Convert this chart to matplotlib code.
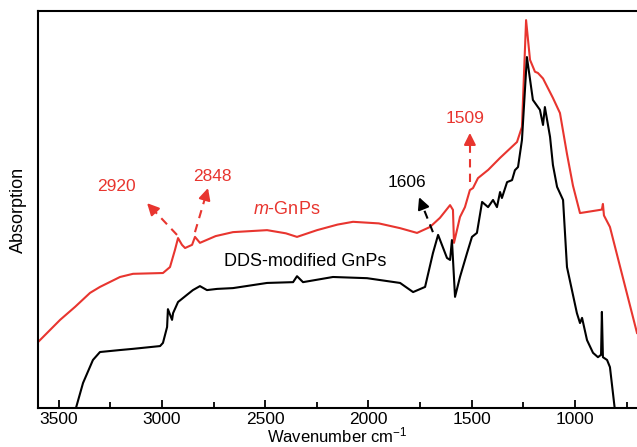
import numpy as np
import matplotlib.pyplot as plt
from matplotlib.ticker import MultipleLocator

plt.rcParams['font.family'] = ['Liberation Sans', 'DejaVu Sans']
plt.rcParams['mathtext.fontset'] = 'custom'
plt.rcParams['mathtext.rm'] = 'Liberation Sans'
plt.rcParams['mathtext.it'] = 'Liberation Sans:italic'

RED = '#e8352f'

# m-GnPs spectrum
wn_m = [3600, 3493, 3420, 3348, 3300, 3203, 3140, 2995, 2961, 2937, 2922, 2903,
        2888, 2854, 2840, 2816, 2740, 2656, 2491, 2400, 2346, 2249, 2150, 2075,
        1950, 1847, 1765, 1702, 1654, 1605, 1591, 1586, 1557, 1533, 1509, 1494,
        1470, 1420, 1363, 1281, 1257, 1237, 1218, 1194, 1180, 1155, 1107, 1073,
        1039, 1010, 976, 879, 870, 865, 860, 831, 700]
abs_m = [0.166, 0.222, 0.255, 0.290, 0.305, 0.330, 0.338, 0.340, 0.355, 0.398,
         0.428, 0.411, 0.403, 0.411, 0.431, 0.416, 0.433, 0.443, 0.448, 0.440,
         0.431, 0.448, 0.462, 0.469, 0.465, 0.453, 0.441, 0.456, 0.479, 0.511,
         0.499, 0.416, 0.481, 0.506, 0.549, 0.554, 0.579, 0.600, 0.630, 0.670,
         0.708, 0.977, 0.877, 0.847, 0.844, 0.830, 0.781, 0.743, 0.640, 0.560,
         0.491, 0.499, 0.500, 0.514, 0.485, 0.456, 0.189]

# DDS-modified GnPs spectrum
wn_d = [3426, 3382, 3334, 3300, 3203, 3140, 3009, 2995, 2975, 2971, 2951, 2946,
        2922, 2879, 2850, 2816, 2782, 2733, 2656, 2491, 2365, 2346, 2317, 2172,
        2007, 1847, 1784, 1726, 1688, 1663, 1620, 1605, 1596, 1581, 1557, 1523,
        1499, 1475, 1450, 1421, 1397, 1378, 1363, 1354, 1329, 1305, 1291, 1276,
        1257, 1233, 1204, 1170, 1155, 1146, 1121, 1107, 1087, 1058, 1039, 991,
        976, 966, 942, 913, 889, 874, 870, 865, 845, 831, 807]
abs_d = [-0.018, 0.063, 0.121, 0.141, 0.146, 0.149, 0.156, 0.164, 0.204, 0.249,
         0.222, 0.239, 0.267, 0.285, 0.297, 0.307, 0.297, 0.300, 0.302, 0.315,
         0.317, 0.332, 0.317, 0.330, 0.327, 0.315, 0.292, 0.305, 0.390, 0.436,
         0.378, 0.373, 0.423, 0.280, 0.330, 0.390, 0.431, 0.441, 0.519, 0.506,
         0.524, 0.506, 0.544, 0.529, 0.569, 0.574, 0.599, 0.607, 0.675, 0.884,
         0.776, 0.751, 0.713, 0.758, 0.683, 0.612, 0.557, 0.524, 0.355, 0.239,
         0.214, 0.227, 0.171, 0.139, 0.128, 0.134, 0.242, 0.128, 0.121, 0.103,
         -0.005]

# peak labels: (text, colour, text pos, arrow tail, arrow head)
peaks = [
    ('2920', RED, (3218, 0.557), (2927, 0.436), (3072, 0.516)),
    ('2848', RED, (2758, 0.584), (2840, 0.443), (2777, 0.554)),
    ('1606', 'black', (1814, 0.567), (1688, 0.443), (1755, 0.531)),
    ('1509', RED, (1533, 0.730), (1509, 0.569), (1509, 0.693)),
]

fig = plt.figure(figsize=(6.37, 4.47), dpi=100)
ax = fig.add_axes([38 / 637, 39 / 447, 599 / 637, 397 / 447])

ax.plot(wn_m, abs_m, color=RED, lw=1.5)
ax.plot(wn_d, abs_d, color='black', lw=1.5)

for label, c, tpos, tail, head in peaks:
    tail = np.array(tail)
    head = np.array(head)
    # dashed shaft, then a short solid arrow for the head
    mid = tail + 0.8 * (head - tail)
    ax.plot([tail[0], mid[0]], [tail[1], mid[1]], color=c, lw=1.5, ls=(0, (4, 3)))
    ax.annotate('', xy=head, xytext=mid,
                arrowprops=dict(arrowstyle='-|>,head_length=0.7,head_width=0.35',
                                color=c, lw=1.5, shrinkA=0, shrinkB=0))
    ax.text(tpos[0], tpos[1], label, color=c, fontsize=12.5, ha='center', va='center')

ax.text(2394, 0.499, r'$\mathit{m}$-GnPs', color=RED, fontsize=13, ha='center', va='center')
ax.text(2307, 0.368, 'DDS-modified GnPs', color='black', fontsize=13, ha='center', va='center')

ax.set_xlim(3600, 700)
ax.set_ylim(0, 1)
ax.xaxis.set_major_locator(MultipleLocator(500))
ax.xaxis.set_minor_locator(MultipleLocator(250))
ax.tick_params(axis='x', which='major', direction='in', length=6, width=1.3,
               labelsize=12.5, pad=3)
ax.tick_params(axis='x', which='minor', direction='in', length=4, width=1.3)
ax.set_yticks([])
for s in ax.spines.values():
    s.set_linewidth(1.5)
ax.spines['right'].set_visible(False)

ax.set_xlabel('Wavenumber cm$^{-1}$', fontsize=12, labelpad=-1)
ax.set_ylabel('Absorption', fontsize=13, labelpad=8)

fig.savefig('out.png', dpi=100)
